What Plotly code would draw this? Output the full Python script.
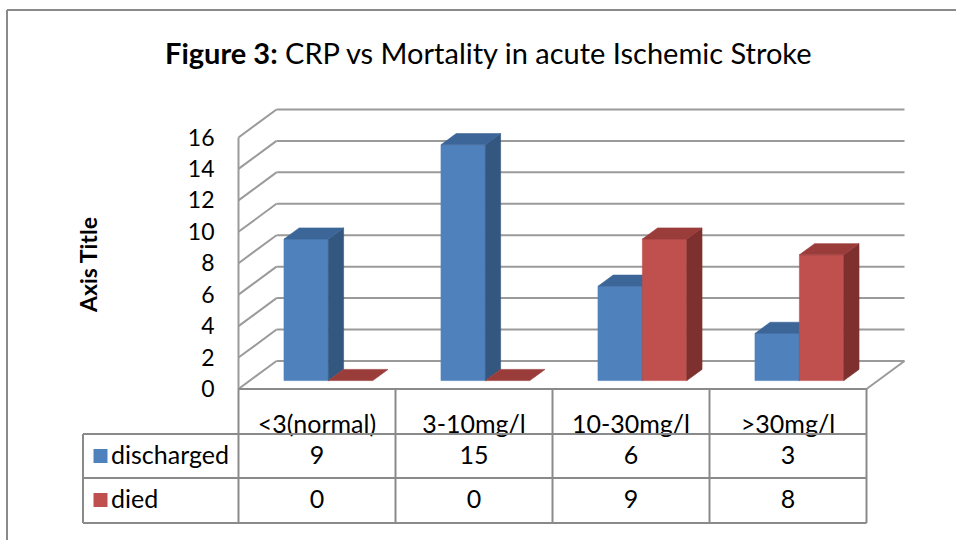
import plotly.graph_objects as go

# ---------------- data ----------------
categories = ["<3(normal)", "3-10mg/l", "10-30mg/l", ">30mg/l"]
series_names = ["discharged", "died"]
discharged = [9, 15, 6, 3]
died = [0, 0, 9, 8]
y_ticks = [0, 2, 4, 6, 8, 10, 12, 14, 16]

# ---------------- geometry / style ----------------
W, H = 956, 540
PX_X0, PX_PER_X = 238.5, 157.0     # pixel of category-slot 0, pixels per slot
PX_Y0, PX_PER_Y = 389.0, 15.72     # pixel of value 0 (front), pixels per unit


def X(px):
    return (px - PX_X0) / PX_PER_X


def Y(py):
    return (PX_Y0 - py) / PX_PER_Y


DX = 38 / PX_PER_X      # full depth of the 3-D box, x direction (data units)
DY = 28 / PX_PER_Y      # full depth, y direction (data units)
D0, D1 = 0.30, 0.70     # bar depth span (fraction of box depth)
BAR_L, BAR_W = 0.217, 0.283

FONT = "Lato, Carlito, Calibri, sans-serif"
GRID = "#9a9a9a"
TABLE = "#8a8a8a"
colors = {
    "discharged": ("#4F81BD", "#3C6698", "#33577F"),
    "died": ("#C0504D", "#9A3C3A", "#7E302F"),
}
series_values = {"discharged": discharged, "died": died}

fig = go.Figure()


def poly(pts, color):
    xs = [p[0] for p in pts] + [pts[0][0]]
    ys = [p[1] for p in pts] + [pts[0][1]]
    fig.add_trace(go.Scatter(x=xs, y=ys, mode="lines", fill="toself",
                             fillcolor=color, line=dict(width=0.6, color=color),
                             hoverinfo="skip", showlegend=False))


def seg(x0, y0, x1, y1, color=GRID, width=2):
    fig.add_trace(go.Scatter(x=[x0, x1], y=[y0, y1], mode="lines",
                             line=dict(color=color, width=width),
                             hoverinfo="skip", showlegend=False))


n = len(categories)
top_v = y_ticks[-1]

# walls: back gridlines + side-wall diagonals
for v in y_ticks:
    seg(DX, v + DY, n + DX, v + DY)
    seg(0, v, DX, v + DY)
seg(0, 0, 0, top_v)                 # front-left edge
seg(n, 0, n + DX, DY)               # floor right edge

# bars
a, b = D0 * DX, D0 * DY
c, e = D1 * DX, D1 * DY
for i in range(n):
    for s, name in enumerate(series_names):
        v = series_values[name][i]
        front, top, side = colors[name]
        xl = i + BAR_L + s * BAR_W
        xr = xl + BAR_W
        if v > 0:
            poly([(xl + a, b), (xr + a, b), (xr + a, v + b), (xl + a, v + b)], front)
            poly([(xr + a, b), (xr + c, e), (xr + c, v + e), (xr + a, v + b)], side)
        poly([(xl + a, v + b), (xr + a, v + b), (xr + c, v + e), (xl + c, v + e)], top)

# ---------------- data table ----------------
row_top, row_h1, row_h2, row_bot = Y(389), Y(434), Y(478), Y(523)
left_col = X(83)
TFONT = 25

fig.add_trace(go.Scatter(
    x=[i + 0.5 for i in range(n)], y=[Y(427)] * n, mode="text",
    text=categories, textposition="middle center",
    textfont=dict(family=FONT, size=TFONT, color="black"),
    hoverinfo="skip", showlegend=False, cliponaxis=False))

row_centers = [Y(458), Y(502)]
for r, name in enumerate(series_names):
    vals = series_values[name]
    fig.add_trace(go.Scatter(
        x=[i + 0.5 for i in range(n)], y=[row_centers[r]] * n, mode="text",
        text=[str(v) for v in vals], textposition="middle center",
        textfont=dict(family=FONT, size=TFONT, color="black"),
        hoverinfo="skip", showlegend=False, cliponaxis=False))
    fig.add_trace(go.Scatter(
        x=[X(100.5)], y=[row_centers[r] + 2 / PX_PER_Y], mode="markers",
        marker=dict(symbol="square", size=14, color=colors[name][0]),
        hoverinfo="skip", showlegend=False, cliponaxis=False))
    fig.add_trace(go.Scatter(
        x=[X(111)], y=[row_centers[r]], mode="text", text=[name],
        textposition="middle right",
        textfont=dict(family=FONT, size=TFONT, color="black"),
        hoverinfo="skip", showlegend=False, cliponaxis=False))

shapes = []


def tline(x0, y0, x1, y1):
    shapes.append(dict(type="line", xref="x", yref="y", x0=x0, y0=y0, x1=x1, y1=y1,
                       line=dict(color=TABLE, width=2), layer="above"))


tline(0, row_top, n, row_top)
for yy in (row_h1, row_h2, row_bot):
    tline(left_col, yy, n, yy)
for i in range(n + 1):
    tline(i, row_top, i, row_bot)
tline(left_col, row_h1, left_col, row_bot)

# outer chart frame
shapes.append(dict(type="line", xref="paper", yref="paper",
                   x0=7 / W, y0=1 - 10 / H, x1=1.01, y1=1 - 10 / H,
                   line=dict(color="#8a8a8a", width=2)))
shapes.append(dict(type="line", xref="paper", yref="paper",
                   x0=7 / W, y0=1 - 10 / H, x1=7 / W, y1=-0.01,
                   line=dict(color="#8a8a8a", width=2)))

annotations = [
    dict(text="<b>Figure 3:</b> CRP vs Mortality in acute Ischemic Stroke",
         xref="paper", yref="paper", x=488 / W, y=1 - 52 / H,
         xanchor="center", yanchor="middle", showarrow=False,
         font=dict(family=FONT, size=29, color="black")),
    dict(text="<b>Axis Title</b>", xref="paper", yref="paper",
         x=88 / W, y=1 - 265 / H, xanchor="center", yanchor="middle",
         textangle=-90, showarrow=False,
         font=dict(family=FONT, size=23, color="black")),
]

fig.update_layout(
    width=W, height=H,
    margin=dict(l=0, r=0, t=0, b=0),
    paper_bgcolor="white", plot_bgcolor="white",
    showlegend=False,
    shapes=shapes, annotations=annotations,
    xaxis=dict(range=[X(0), X(W)], visible=False, fixedrange=True),
    yaxis=dict(range=[Y(H), Y(0)], anchor="free", position=PX_X0 / W,
               tickmode="array", tickvals=y_ticks,
               ticktext=[str(t) for t in y_ticks],
               showgrid=False, zeroline=False, showline=False, ticks="",
               ticklabelstandoff=24,
               tickfont=dict(family=FONT, size=23, color="black"),
               fixedrange=True),
)

fig.write_html(
    "out.html",
    config={"displayModeBar": False},
    post_script="document.body.style.margin='0';document.body.style.overflow='hidden';",
)
